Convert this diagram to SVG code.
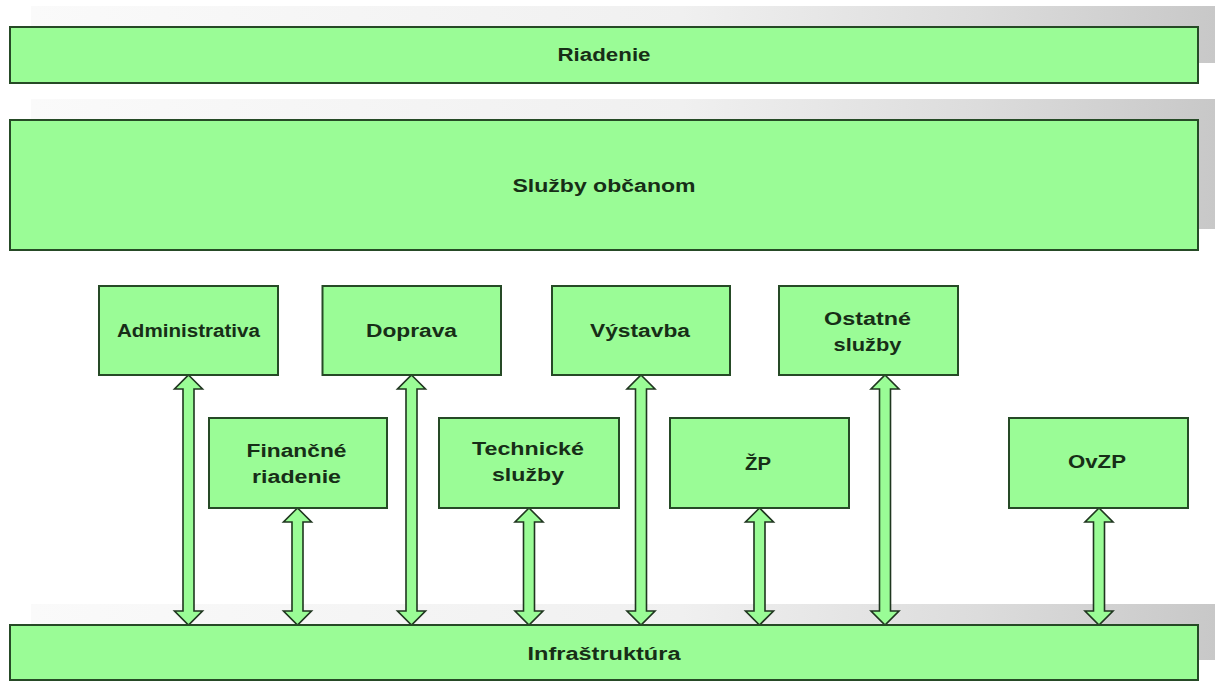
<svg xmlns="http://www.w3.org/2000/svg" width="1215" height="683" viewBox="0 0 1215 683">
  <defs>
    <linearGradient id="shade" x1="0" y1="0" x2="1" y2="0">
      <stop offset="0" stop-color="#fafafa"/>
      <stop offset="0.55" stop-color="#f0f0f0"/>
      <stop offset="0.8" stop-color="#dcdcdc"/>
      <stop offset="1" stop-color="#c8c8c8"/>
    </linearGradient>
  </defs>
  <style>
    .box { fill: #9afc96; stroke: #264a26; stroke-width: 2; }
    .strip { fill: url(#shade); }
    .lbl { font-family: "Liberation Sans", Arial, sans-serif; font-weight: bold; font-size: 18px; fill: #172e17; text-anchor: middle; }
    .arr { fill: #9afc96; stroke: #1f361f; stroke-width: 1.6; stroke-linejoin: miter; }
  </style>
  <rect width="1215" height="683" fill="#ffffff"/>

  <!-- shaded backing strips behind the layer bars -->
  <g id="strips">
    <rect class="strip" x="31" y="6" width="1184" height="57"/>
    <rect class="strip" x="31" y="99" width="1184" height="130"/>
    <rect class="strip" x="31" y="604" width="1184" height="56"/>
  </g>

  <!-- layer bars -->
  <g id="riadenie">
    <rect class="box" x="10" y="27" width="1188" height="56"/>
    <text class="lbl" x="604" y="61" textLength="93" lengthAdjust="spacingAndGlyphs">Riadenie</text>
  </g>
  <g id="sluzby-obcanom">
    <rect class="box" x="10" y="120" width="1188" height="130"/>
    <text class="lbl" x="604" y="192" textLength="183" lengthAdjust="spacingAndGlyphs">Služby občanom</text>
  </g>

  <!-- connectors -->
  <g id="connectors">
    <path class="arr" d="M188.5,375 L202.5,389 L194,389 L194,611 L202.5,611 L188.5,625 L174.5,611 L183,611 L183,389 L174.5,389 Z"/>
    <path class="arr" d="M297.5,508 L311.5,522 L303,522 L303,611 L311.5,611 L297.5,625 L283.5,611 L292,611 L292,522 L283.5,522 Z"/>
    <path class="arr" d="M411.5,375 L425.5,389 L417,389 L417,611 L425.5,611 L411.5,625 L397.5,611 L406,611 L406,389 L397.5,389 Z"/>
    <path class="arr" d="M529,508 L543,522 L534.5,522 L534.5,611 L543,611 L529,625 L515,611 L523.5,611 L523.5,522 L515,522 Z"/>
    <path class="arr" d="M641,375 L655,389 L646.5,389 L646.5,611 L655,611 L641,625 L627,611 L635.5,611 L635.5,389 L627,389 Z"/>
    <path class="arr" d="M759.5,508 L773.5,522 L765,522 L765,611 L773.5,611 L759.5,625 L745.5,611 L754,611 L754,522 L745.5,522 Z"/>
    <path class="arr" d="M885,375 L899,389 L890.5,389 L890.5,611 L899,611 L885,625 L871,611 L879.5,611 L879.5,389 L871,389 Z"/>
    <path class="arr" d="M1099,508 L1113,522 L1104.5,522 L1104.5,611 L1113,611 L1099,625 L1085,611 L1093.5,611 L1093.5,522 L1085,522 Z"/>
  </g>

  <g id="infrastruktura">
    <rect class="box" x="10" y="625" width="1188" height="55"/>
    <text class="lbl" x="604" y="660" textLength="153" lengthAdjust="spacingAndGlyphs">Infraštruktúra</text>
  </g>

  <!-- upper row of departments -->
  <g id="administrativa">
    <rect class="box" x="99" y="286" width="179" height="89"/>
    <text class="lbl" x="188.5" y="337" textLength="143" lengthAdjust="spacingAndGlyphs">Administrativa</text>
  </g>
  <g id="doprava">
    <rect class="box" x="322.5" y="286" width="178.5" height="89"/>
    <text class="lbl" x="411.5" y="337" textLength="91" lengthAdjust="spacingAndGlyphs">Doprava</text>
  </g>
  <g id="vystavba">
    <rect class="box" x="552" y="286" width="178" height="89"/>
    <text class="lbl" x="640" y="337" textLength="100" lengthAdjust="spacingAndGlyphs">Výstavba</text>
  </g>
  <g id="ostatne-sluzby">
    <rect class="box" x="779" y="286" width="179" height="89"/>
    <text class="lbl" x="867.5" y="325" textLength="87" lengthAdjust="spacingAndGlyphs">Ostatné</text>
    <text class="lbl" x="867.5" y="351" textLength="68" lengthAdjust="spacingAndGlyphs">služby</text>
  </g>

  <!-- lower row of departments -->
  <g id="financne-riadenie">
    <rect class="box" x="209" y="418" width="178" height="90"/>
    <text class="lbl" x="296.5" y="457" textLength="100" lengthAdjust="spacingAndGlyphs">Finančné</text>
    <text class="lbl" x="296.5" y="483" textLength="89" lengthAdjust="spacingAndGlyphs">riadenie</text>
  </g>
  <g id="technicke-sluzby">
    <rect class="box" x="439" y="418" width="180" height="90"/>
    <text class="lbl" x="528" y="455" textLength="112" lengthAdjust="spacingAndGlyphs">Technické</text>
    <text class="lbl" x="528" y="481" textLength="72" lengthAdjust="spacingAndGlyphs">služby</text>
  </g>
  <g id="zp">
    <rect class="box" x="670" y="418" width="179" height="90"/>
    <text class="lbl" x="758" y="470" textLength="26" lengthAdjust="spacingAndGlyphs">ŽP</text>
  </g>
  <g id="ovzp">
    <rect class="box" x="1009" y="418" width="179" height="90"/>
    <text class="lbl" x="1097" y="468" textLength="58" lengthAdjust="spacingAndGlyphs">OvZP</text>
  </g>
</svg>
